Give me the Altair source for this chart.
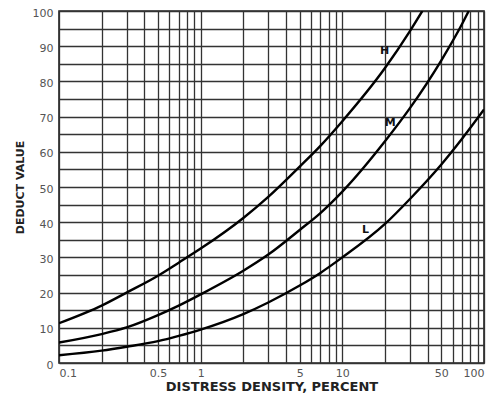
import altair as alt
import pandas as pd

# ---- data ----
H_x = [0.1, 0.2, 0.3, 0.5, 0.7, 1, 2, 3, 5, 7, 10, 20, 30, 36.7]
H_y = [11.3, 16.3, 20.0, 24.8, 28.5, 32.5, 41.2, 47.2, 55.8, 61.7, 68.7, 83.8, 94.3, 100]

M_x = [0.1, 0.2, 0.3, 0.5, 0.7, 1, 2, 3, 5, 7, 10, 20, 30, 50, 70, 78]
M_y = [5.8, 8.2, 10.1, 13.6, 16.3, 19.5, 26.2, 30.8, 37.8, 42.6, 48.7, 63.0, 72.4, 86.0, 96.3, 100]

L_x = [0.1, 0.2, 0.3, 0.5, 0.7, 1, 2, 3, 5, 7, 10, 20, 30, 50, 70, 100]
L_y = [2.2, 3.5, 4.6, 6.2, 7.7, 9.5, 13.9, 17.2, 22.0, 25.6, 30.0, 39.5, 46.6, 56.4, 63.7, 72.0]

label_text = ["H", "M", "L"]
label_x = [19.9, 21.8, 14.6]
label_y = [88.5, 68.3, 37.8]

x_labels = [0.1, 0.5, 1, 5, 10, 50, 100]
x_grid = [round(m * 10 ** e, 6) for e in (-1, 0, 1) for m in range(1, 10)] + [100]
y_grid = list(range(0, 101, 5))

rows = []
for name, xs, ys in (("H", H_x, H_y), ("M", M_x, M_y), ("L", L_x, L_y)):
    for a, b in zip(xs, ys):
        rows.append({"curve": name, "x": a, "y": b})
df = pd.DataFrame(rows)
lab = pd.DataFrame({"t": label_text, "x": label_x, "y": label_y})

FONT = "DejaVu Sans"
label_list = "[" + ",".join(str(v) for v in x_labels) + "]"

xenc = alt.X(
    "x:Q",
    scale=alt.Scale(type="log", domain=[0.1, 100], nice=False),
    axis=alt.Axis(
        values=x_grid,
        format="~g",
        labelExpr=f"indexof({label_list}, datum.value) >= 0 ? datum.label : ''",
        labelAlign=alt.expr(
            "datum.value == 0.1 ? 'left' : (datum.value == 100 ? 'right' : 'center')"
        ),
        labelOverlap=False,
        labelBound=False,
        labelFlush=False,
        ticks=False,
        domain=False,
        grid=True,
        gridColor="#333333",
        gridWidth=1.3,
        labelPadding=4,
        labelFont=FONT,
        labelFontSize=11,
        labelColor="#555555",
        title="DISTRESS DENSITY, PERCENT",
        titleFont=FONT,
        titleFontSize=13,
        titleFontWeight="bold",
        titleColor="#222222",
        titleBaseline="alphabetic",
        titleY=27,
    ),
)
yenc = alt.Y(
    "y:Q",
    scale=alt.Scale(domain=[0, 100], nice=False),
    axis=alt.Axis(
        values=y_grid,
        labelExpr="datum.value % 10 == 0 ? datum.label : ''",
        labelOverlap=False,
        labelBound=False,
        labelFlush=False,
        labelOffset=2,
        ticks=False,
        domain=False,
        grid=True,
        gridColor="#333333",
        gridWidth=1.3,
        labelPadding=6,
        labelFont=FONT,
        labelFontSize=11,
        labelColor="#555555",
        title="DEDUCT VALUE",
        titleFont=FONT,
        titleFontSize=11,
        titleFontWeight="bold",
        titleColor="#222222",
        titlePadding=7,
    ),
)

lines = alt.Chart(df).mark_line(
    color="black", strokeWidth=2.4, interpolate="monotone", clip=True
).encode(x=xenc, y=yenc, detail="curve:N")

texts = alt.Chart(lab).mark_text(
    font=FONT, fontSize=11, fontWeight="bold", color="#111111"
).encode(x=xenc, y=yenc, text="t:N")

chart = (
    alt.layer(lines, texts)
    .properties(
        width=425,
        height=352,
        autosize=alt.AutoSizeParams(type="none"),
        padding={"left": 51, "top": 3, "right": 5, "bottom": 30},
    )
    .configure_view(stroke="#222222", strokeWidth=1.6)
)

chart.save("out.html", embed_options={"renderer": "svg", "actions": False})
